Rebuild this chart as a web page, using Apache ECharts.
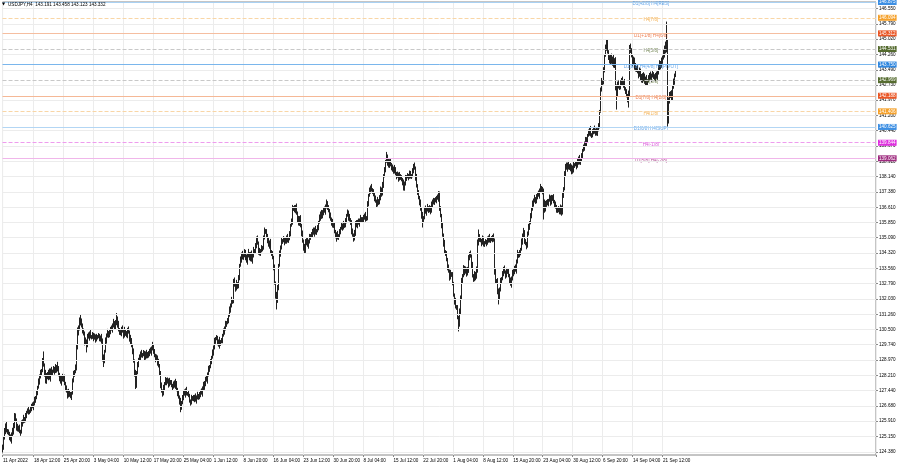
<!DOCTYPE html>
<html><head><meta charset="utf-8">
<script src="https://cdn.jsdelivr.net/npm/echarts@6/dist/echarts.min.js"></script>
<style>html,body{margin:0;padding:0;background:#fff}#c{width:900px;height:468px}</style>
</head><body><div id="c"></div>
<script>
const titleText = 'USDJPY,H4  143.191 143.458 143.123 143.332';
const yTickLabels = ['124.380','125.150','125.910','126.680','127.440','128.210','128.970','129.740','130.500','131.260','132.030','132.790','133.560','134.320','135.090','135.850','136.610','137.380','138.140','138.910','139.670','140.440','141.200','141.970','142.730','143.490','144.260','145.020','145.790','146.550'];
const xTickIdx = [0,33,65,97,129,161,193,225,257,289,321,353,385,417,449,481,513,545,577,609,641,673,705];
const xTickLabels = ['11 Apr 2022','18 Apr 12:00','25 Apr 20:00','3 May 04:00','10 May 12:00','17 May 20:00','25 May 04:00','1 Jun 12:00','8 Jun 20:00','16 Jun 04:00','23 Jun 12:00','30 Jun 20:00','8 Jul 04:00','15 Jul 12:00','22 Jul 20:00','1 Aug 04:00','8 Aug 12:00','15 Aug 20:00','23 Aug 04:00','30 Aug 12:00','6 Sep 20:00','14 Sep 04:00','21 Sep 12:00'];
const levelValues = [146.875,146.094,145.312,144.531,143.750,142.969,142.188,141.406,140.625,139.844,139.062];
const levelNames = ['D1[+2/8] H4[RES]','H4[7/8]','D1[+1/8] H4[6/8]','H4[5/8]','D1[8/8] H4[4/8] H4[PIVOT]','H4[3/8]','D1[7/8] H4[2/8]','H4[1/8]','D1[6/8] H4[SUP]','H4[-1/8]','D1[5/8] H4[-2/8]'];
const levelBoxLabels = ['146.875','146.094','145.312','144.531','143.750','142.969','142.188','141.406','140.625','139.844','139.062'];
const bidValue = 143.332;
const bidLabel = '143.332';

const opens = [
124.40,124.62,125.05,125.42,125.70,125.45,
125.38,125.30,125.10,124.95,125.25,125.40,
125.36,125.70,126.15,125.95,125.60,125.50,
125.62,125.40,125.35,125.80,125.90,126.05,
125.95,126.20,126.35,126.40,126.45,126.38,
126.42,126.55,126.70,126.62,126.80,126.95,
127.10,127.35,127.60,127.90,128.15,128.30,
128.45,128.95,129.20,128.70,128.30,127.90,
128.25,128.10,128.40,128.05,128.45,128.30,
128.42,128.55,128.38,128.62,128.50,128.70,
128.55,128.25,128.05,127.85,128.10,128.00,
128.12,127.80,127.55,127.40,127.20,127.35,
127.25,127.15,127.30,127.70,127.95,128.25,
128.40,128.55,129.60,130.40,130.55,130.80,
130.90,130.70,130.45,130.30,129.85,129.90,
129.70,130.05,130.20,130.10,130.30,130.15,
130.12,130.25,130.05,130.15,130.00,130.10,
130.15,130.20,130.05,129.95,130.10,129.95,
129.10,128.95,129.40,129.95,130.20,130.35,
130.20,130.40,130.55,130.50,130.70,130.85,
130.60,130.85,131.10,131.05,130.75,130.50,
130.35,130.30,130.55,130.40,130.20,130.45,
130.30,130.20,130.50,130.35,130.05,129.85,
129.95,129.70,129.40,128.90,128.30,127.70,
128.35,128.75,129.00,129.10,129.30,129.20,
129.25,129.35,129.10,129.25,129.15,129.30,
129.18,129.30,129.45,129.35,129.55,129.70,
129.40,129.20,129.00,129.10,128.85,128.70,
128.30,128.10,127.70,127.40,127.30,127.55,
127.80,128.00,127.85,127.95,127.75,127.90,
127.85,127.70,127.60,127.75,127.85,127.65,
127.80,127.50,127.30,127.10,126.90,126.60,
126.85,127.10,127.35,127.25,127.45,127.30,
127.30,127.20,127.05,126.90,126.85,127.05,
127.10,127.00,127.15,126.95,127.10,127.20,
127.10,127.25,127.40,127.30,127.55,127.70,
127.60,127.80,128.05,127.95,128.25,128.50,
128.65,128.90,129.10,129.35,129.60,129.90,
130.05,130.10,129.85,129.70,129.95,129.80,
129.90,129.95,130.20,130.40,130.55,130.75,
130.85,130.95,131.20,131.50,131.70,131.95,
131.90,132.40,132.95,132.70,132.55,132.80,
132.65,133.10,133.70,134.00,134.25,134.10,
134.20,134.40,134.10,133.90,134.20,134.35,
134.25,134.05,134.30,133.95,134.20,134.45,
134.40,134.70,135.05,134.80,134.40,134.30,
134.45,134.60,134.55,134.80,135.10,135.45,
135.40,135.20,134.95,134.70,134.85,134.40,
134.30,134.10,133.60,132.80,132.20,131.95,
132.20,132.60,133.70,134.30,134.60,134.90,
134.95,135.05,134.85,134.95,135.10,134.95,
135.05,135.30,135.70,135.90,136.20,136.55,
136.60,136.45,136.65,136.30,136.00,135.80,
136.10,135.70,135.30,134.90,134.60,134.45,
134.95,134.80,134.95,134.70,134.90,135.10,
135.20,135.25,135.45,135.30,135.50,135.35,
135.45,135.60,135.85,136.10,136.30,136.20,
136.15,136.35,136.50,136.40,136.65,136.85,
136.60,136.45,136.20,136.00,135.85,135.70,
135.75,135.40,135.20,135.05,135.25,135.10,
135.20,135.40,135.55,135.70,135.60,135.75,
135.70,135.95,136.20,136.35,136.10,136.00,
135.85,135.60,135.40,135.20,135.05,135.30,
135.85,135.70,135.90,135.80,135.95,136.05,
135.95,136.00,136.15,136.05,136.20,136.10,
136.05,136.80,137.20,137.45,137.60,137.50,
137.40,137.25,137.05,136.90,136.75,136.95,
136.85,137.10,137.35,137.50,137.30,137.70,
138.20,138.50,138.90,139.15,138.85,138.70,
138.95,138.75,138.60,138.45,138.55,138.40,
138.50,138.30,138.15,138.25,138.05,138.20,
138.10,138.00,137.85,137.60,137.80,138.05,
138.15,138.20,138.10,138.30,138.25,138.15,
138.20,138.45,138.70,138.55,138.10,137.70,
137.35,137.10,136.85,136.50,136.20,135.95,
136.10,136.40,136.55,136.35,136.50,136.60,
136.45,136.60,136.40,136.75,136.90,136.85,
137.00,136.95,137.10,137.05,137.30,136.90,
136.55,136.20,135.70,135.20,134.80,134.40,
134.30,134.00,133.60,133.40,133.10,133.30,
133.25,132.80,132.50,132.20,131.90,131.65,
131.60,131.10,130.70,131.40,132.10,132.90,
133.20,133.60,133.35,133.50,133.30,133.45,
133.80,134.10,134.30,134.15,133.70,133.20,
133.00,133.30,133.10,133.50,134.80,135.20,
135.00,134.95,134.80,135.05,134.90,134.75,
134.85,134.90,134.80,135.00,135.10,134.95,
135.05,135.00,135.15,134.95,133.40,132.90,
132.95,132.70,132.40,132.15,132.50,132.90,
133.05,133.30,133.55,133.35,133.20,133.40,
133.45,133.20,132.95,132.75,133.05,133.30,
133.25,133.40,133.60,133.45,133.90,134.30,
134.20,134.35,134.50,134.90,135.20,135.40,
134.90,134.80,134.65,134.90,135.30,135.60,
135.85,136.20,136.50,136.80,136.95,137.05,
136.90,137.15,137.30,137.20,137.45,137.60,
137.50,137.55,137.40,136.90,136.50,136.75,
136.90,136.80,136.95,137.10,136.85,137.05,
137.15,136.90,136.75,136.60,136.50,136.55,
136.45,136.55,136.40,136.60,136.35,137.20,
137.55,138.30,138.70,138.55,138.75,138.60,
138.70,138.50,138.40,138.60,138.45,138.70,
138.75,138.80,138.65,138.90,139.05,138.85,
139.00,139.20,139.45,139.60,139.80,139.95,
139.75,140.00,140.20,140.35,140.50,140.25,
140.20,140.40,140.55,140.35,140.45,140.30,
140.50,140.70,141.40,142.00,142.50,142.90,
142.85,143.50,144.20,144.60,144.80,144.40,
144.10,143.90,144.15,143.85,144.05,143.70,
144.00,143.20,142.60,142.30,142.80,142.65,
142.60,142.85,143.00,142.75,142.85,142.55,
142.40,142.20,142.00,142.30,144.20,144.55,
144.45,144.20,143.80,144.00,143.65,143.50,
143.60,143.40,143.20,143.45,143.10,142.95,
143.25,143.00,143.15,142.85,143.05,142.80,
142.95,143.10,143.25,143.05,143.20,143.30,
143.15,143.05,143.25,143.10,143.35,143.60,
143.70,143.85,143.65,143.95,144.10,144.30,
144.40,144.50,144.65,140.95,141.90,142.20,
142.35,142.10,142.60,142.90,143.05,143.191
];
const closes = [
124.62,125.05,125.42,125.70,125.45,125.38,
125.30,125.10,124.95,125.25,125.40,125.36,
125.70,126.15,125.95,125.60,125.50,125.62,
125.40,125.35,125.80,125.90,126.05,125.95,
126.20,126.35,126.40,126.45,126.38,126.42,
126.55,126.70,126.62,126.80,126.95,127.10,
127.35,127.60,127.90,128.15,128.30,128.45,
128.95,129.20,128.70,128.30,127.90,128.25,
128.10,128.40,128.05,128.45,128.30,128.42,
128.55,128.38,128.62,128.50,128.70,128.55,
128.25,128.05,127.85,128.10,128.00,128.12,
127.80,127.55,127.40,127.20,127.35,127.25,
127.15,127.30,127.70,127.95,128.25,128.40,
128.55,129.60,130.40,130.55,130.80,130.90,
130.70,130.45,130.30,129.85,129.90,129.70,
130.05,130.20,130.10,130.30,130.15,130.12,
130.25,130.05,130.15,130.00,130.10,130.15,
130.20,130.05,129.95,130.10,129.95,129.10,
128.95,129.40,129.95,130.20,130.35,130.20,
130.40,130.55,130.50,130.70,130.85,130.60,
130.85,131.10,131.05,130.75,130.50,130.35,
130.30,130.55,130.40,130.20,130.45,130.30,
130.20,130.50,130.35,130.05,129.85,129.95,
129.70,129.40,128.90,128.30,127.70,128.35,
128.75,129.00,129.10,129.30,129.20,129.25,
129.35,129.10,129.25,129.15,129.30,129.18,
129.30,129.45,129.35,129.55,129.70,129.40,
129.20,129.00,129.10,128.85,128.70,128.30,
128.10,127.70,127.40,127.30,127.55,127.80,
128.00,127.85,127.95,127.75,127.90,127.85,
127.70,127.60,127.75,127.85,127.65,127.80,
127.50,127.30,127.10,126.90,126.60,126.85,
127.10,127.35,127.25,127.45,127.30,127.30,
127.20,127.05,126.90,126.85,127.05,127.10,
127.00,127.15,126.95,127.10,127.20,127.10,
127.25,127.40,127.30,127.55,127.70,127.60,
127.80,128.05,127.95,128.25,128.50,128.65,
128.90,129.10,129.35,129.60,129.90,130.05,
130.10,129.85,129.70,129.95,129.80,129.90,
129.95,130.20,130.40,130.55,130.75,130.85,
130.95,131.20,131.50,131.70,131.95,131.90,
132.40,132.95,132.70,132.55,132.80,132.65,
133.10,133.70,134.00,134.25,134.10,134.20,
134.40,134.10,133.90,134.20,134.35,134.25,
134.05,134.30,133.95,134.20,134.45,134.40,
134.70,135.05,134.80,134.40,134.30,134.45,
134.60,134.55,134.80,135.10,135.45,135.40,
135.20,134.95,134.70,134.85,134.40,134.30,
134.10,133.60,132.80,132.20,131.95,132.20,
132.60,133.70,134.30,134.60,134.90,134.95,
135.05,134.85,134.95,135.10,134.95,135.05,
135.30,135.70,135.90,136.20,136.55,136.60,
136.45,136.65,136.30,136.00,135.80,136.10,
135.70,135.30,134.90,134.60,134.45,134.95,
134.80,134.95,134.70,134.90,135.10,135.20,
135.25,135.45,135.30,135.50,135.35,135.45,
135.60,135.85,136.10,136.30,136.20,136.15,
136.35,136.50,136.40,136.65,136.85,136.60,
136.45,136.20,136.00,135.85,135.70,135.75,
135.40,135.20,135.05,135.25,135.10,135.20,
135.40,135.55,135.70,135.60,135.75,135.70,
135.95,136.20,136.35,136.10,136.00,135.85,
135.60,135.40,135.20,135.05,135.30,135.85,
135.70,135.90,135.80,135.95,136.05,135.95,
136.00,136.15,136.05,136.20,136.10,136.05,
136.80,137.20,137.45,137.60,137.50,137.40,
137.25,137.05,136.90,136.75,136.95,136.85,
137.10,137.35,137.50,137.30,137.70,138.20,
138.50,138.90,139.15,138.85,138.70,138.95,
138.75,138.60,138.45,138.55,138.40,138.50,
138.30,138.15,138.25,138.05,138.20,138.10,
138.00,137.85,137.60,137.80,138.05,138.15,
138.20,138.10,138.30,138.25,138.15,138.20,
138.45,138.70,138.55,138.10,137.70,137.35,
137.10,136.85,136.50,136.20,135.95,136.10,
136.40,136.55,136.35,136.50,136.60,136.45,
136.60,136.40,136.75,136.90,136.85,137.00,
136.95,137.10,137.05,137.30,136.90,136.55,
136.20,135.70,135.20,134.80,134.40,134.30,
134.00,133.60,133.40,133.10,133.30,133.25,
132.80,132.50,132.20,131.90,131.65,131.60,
131.10,130.70,131.40,132.10,132.90,133.20,
133.60,133.35,133.50,133.30,133.45,133.80,
134.10,134.30,134.15,133.70,133.20,133.00,
133.30,133.10,133.50,134.80,135.20,135.00,
134.95,134.80,135.05,134.90,134.75,134.85,
134.90,134.80,135.00,135.10,134.95,135.05,
135.00,135.15,134.95,133.40,132.90,132.95,
132.70,132.40,132.15,132.50,132.90,133.05,
133.30,133.55,133.35,133.20,133.40,133.45,
133.20,132.95,132.75,133.05,133.30,133.25,
133.40,133.60,133.45,133.90,134.30,134.20,
134.35,134.50,134.90,135.20,135.40,134.90,
134.80,134.65,134.90,135.30,135.60,135.85,
136.20,136.50,136.80,136.95,137.05,136.90,
137.15,137.30,137.20,137.45,137.60,137.50,
137.55,137.40,136.90,136.50,136.75,136.90,
136.80,136.95,137.10,136.85,137.05,137.15,
136.90,136.75,136.60,136.50,136.55,136.45,
136.55,136.40,136.60,136.35,137.20,137.55,
138.30,138.70,138.55,138.75,138.60,138.70,
138.50,138.40,138.60,138.45,138.70,138.75,
138.80,138.65,138.90,139.05,138.85,139.00,
139.20,139.45,139.60,139.80,139.95,139.75,
140.00,140.20,140.35,140.50,140.25,140.20,
140.40,140.55,140.35,140.45,140.30,140.50,
140.70,141.40,142.00,142.50,142.90,142.85,
143.50,144.20,144.60,144.80,144.40,144.10,
143.90,144.15,143.85,144.05,143.70,144.00,
143.20,142.60,142.30,142.80,142.65,142.60,
142.85,143.00,142.75,142.85,142.55,142.40,
142.20,142.00,142.30,144.20,144.55,144.45,
144.20,143.80,144.00,143.65,143.50,143.60,
143.40,143.20,143.45,143.10,142.95,143.25,
143.00,143.15,142.85,143.05,142.80,142.95,
143.10,143.25,143.05,143.20,143.30,143.15,
143.05,143.25,143.10,143.35,143.60,143.70,
143.85,143.65,143.95,144.10,144.30,144.40,
144.50,144.65,140.95,141.90,142.20,142.35,
142.10,142.60,142.90,143.05,143.191,143.332
];
const highs = [
124.74,125.13,125.57,125.80,125.88,125.52,
125.50,125.38,125.25,125.35,125.58,125.47,
125.82,126.32,126.30,126.05,125.78,125.69,
125.74,125.48,125.95,126.00,126.23,126.12,
126.32,126.43,126.55,126.55,126.63,126.49,
126.67,126.78,126.85,126.90,127.13,127.17,
127.47,127.68,128.05,128.25,128.48,128.52,
129.07,129.40,129.35,128.80,128.48,128.32,
128.37,128.48,128.55,128.55,128.63,128.49,
128.67,128.63,128.77,128.72,128.88,128.77,
128.67,128.33,128.20,128.20,128.28,128.19,
128.24,127.88,127.70,127.50,127.53,127.42,
127.37,127.38,127.85,128.05,128.43,128.47,
128.75,129.75,130.60,130.70,131.10,131.25,
131.05,130.80,130.55,130.40,130.10,130.00,
130.17,130.28,130.35,130.40,130.48,130.22,
130.37,130.33,130.30,130.25,130.28,130.22,
130.32,130.28,130.20,130.20,130.28,130.05,
129.25,129.48,130.10,130.30,130.53,130.42,
130.52,130.63,130.70,130.80,131.03,130.92,
130.97,131.18,131.32,131.15,130.93,130.57,
130.47,130.63,130.70,130.50,130.63,130.52,
130.42,130.58,130.65,130.45,130.23,130.02,
130.07,129.78,129.55,129.00,128.48,128.42,
128.87,129.08,129.25,129.40,129.48,129.32,
129.47,129.43,129.40,129.35,129.48,129.37,
129.42,129.53,129.60,129.65,129.88,129.77,
129.52,129.28,129.25,129.20,129.03,128.77,
128.42,128.18,127.85,127.50,127.73,127.87,
128.12,128.08,128.10,128.05,128.08,127.97,
127.97,127.78,127.90,127.95,128.03,127.87,
127.92,127.58,127.45,127.20,127.08,126.92,
127.22,127.43,127.50,127.55,127.63,127.37,
127.42,127.28,127.20,127.00,127.23,127.17,
127.22,127.23,127.30,127.20,127.38,127.27,
127.37,127.48,127.55,127.65,127.88,127.77,
127.92,128.13,128.20,128.35,128.68,128.72,
129.02,129.18,129.50,129.70,130.08,130.12,
130.22,130.18,130.00,130.05,130.13,129.97,
130.07,130.28,130.55,130.65,130.93,130.92,
131.07,131.28,131.65,131.80,132.13,132.02,
132.52,133.03,133.10,132.80,132.98,132.87,
133.22,133.78,134.15,134.35,134.43,134.27,
134.52,134.48,134.25,134.30,134.53,134.42,
134.37,134.38,134.45,134.30,134.63,134.52,
134.82,135.15,135.20,134.90,134.58,134.52,
134.72,134.68,134.95,135.20,135.60,135.52,
135.52,135.28,135.10,134.95,135.03,134.47,
134.42,134.18,133.75,132.90,132.38,132.27,
132.72,133.78,134.45,134.70,135.08,135.02,
135.17,135.13,135.10,135.20,135.28,135.12,
135.42,135.78,136.05,136.30,136.73,136.67,
136.72,136.73,136.80,136.40,136.18,136.17,
136.22,135.78,135.45,135.00,134.78,135.02,
135.07,135.03,135.10,135.00,135.28,135.27,
135.37,135.53,135.60,135.60,135.68,135.52,
135.72,135.93,136.25,136.40,136.48,136.27,
136.47,136.58,136.65,136.75,137.00,136.92,
136.72,136.53,136.35,136.10,136.03,135.82,
135.87,135.48,135.35,135.35,135.43,135.27,
135.52,135.63,135.85,135.80,135.93,135.82,
136.07,136.28,136.50,136.45,136.28,136.07,
135.97,135.68,135.55,135.30,135.48,135.92,
135.97,135.98,136.05,136.05,136.23,136.12,
136.12,136.23,136.30,136.30,136.38,136.17,
136.92,137.28,137.60,137.70,137.78,137.57,
137.52,137.33,137.20,137.00,137.13,137.02,
137.22,137.43,137.65,137.60,137.88,138.27,
138.62,138.98,139.38,139.25,139.03,139.02,
139.07,138.83,138.75,138.65,138.73,138.57,
138.62,138.38,138.40,138.35,138.38,138.27,
138.22,138.08,138.00,137.90,138.23,138.22,
138.32,138.28,138.45,138.40,138.43,138.27,
138.57,138.78,138.85,138.65,138.28,137.77,
137.47,137.18,137.00,136.60,136.38,136.17,
136.52,136.63,136.70,136.60,136.78,136.67,
136.72,136.68,136.90,137.00,137.08,137.07,
137.12,137.18,137.25,137.42,137.40,136.97,
136.67,136.28,135.85,135.30,134.98,134.47,
134.42,134.08,133.75,133.50,133.48,133.37,
133.37,132.88,132.65,132.30,132.08,131.72,
131.72,131.18,131.55,132.20,133.08,133.27,
133.72,133.68,133.65,133.60,133.63,133.87,
134.22,134.38,134.45,134.25,133.88,133.27,
133.42,133.38,133.65,135.00,135.50,135.27,
135.12,135.03,135.20,135.15,135.08,134.92,
135.02,134.98,135.15,135.20,135.28,135.12,
135.17,135.23,135.30,135.05,133.58,133.02,
133.07,132.78,132.55,132.60,133.08,133.12,
133.42,133.63,133.70,133.45,133.58,133.52,
133.57,133.28,133.10,133.15,133.48,133.37,
133.52,133.68,133.75,134.00,134.48,134.37,
134.47,134.58,135.05,135.30,135.58,135.47,
135.02,134.88,135.05,135.40,135.78,135.92,
136.32,136.58,136.95,137.05,137.23,137.12,
137.27,137.38,137.45,137.55,137.78,137.67,
137.67,137.63,137.55,137.00,136.93,136.97,
137.02,137.03,137.25,137.20,137.23,137.22,
137.27,136.98,136.90,136.70,136.73,136.62,
136.67,136.63,136.75,136.70,137.38,137.62,
138.42,138.78,138.85,138.85,138.93,138.77,
138.82,138.58,138.75,138.70,138.88,138.82,
138.92,138.88,139.05,139.15,139.23,139.07,
139.32,139.53,139.75,139.90,140.13,140.02,
140.12,140.28,140.50,140.60,140.68,140.32,
140.52,140.63,140.70,140.55,140.63,140.57,
140.82,141.48,142.15,142.60,143.08,142.97,
143.62,144.28,144.75,144.99,144.98,144.47,
144.22,144.23,144.30,144.15,144.23,144.07,
144.12,143.28,142.75,142.90,142.98,142.72,
142.97,143.08,143.15,142.95,143.03,142.62,
142.52,142.28,142.45,144.30,144.73,144.80,
144.57,144.28,144.15,144.10,143.83,143.67,
143.72,143.48,143.60,143.55,143.28,143.32,
143.37,143.23,143.30,143.15,143.23,143.02,
143.22,143.33,143.40,143.30,143.48,143.37,
143.27,143.33,143.40,143.45,143.78,143.77,
143.97,143.93,144.10,144.20,144.48,144.70,
144.90,145.90,145.00,142.10,142.38,142.42,
142.47,142.68,143.05,143.15,143.30,143.458
];
const lows = [
124.31,124.48,124.99,125.26,125.35,125.26,
125.21,124.96,124.89,124.79,125.15,125.24,
125.27,125.56,125.89,125.44,125.40,125.38,
125.31,125.18,125.29,125.64,125.80,125.83,
125.86,126.06,126.29,126.24,126.28,126.26,
126.33,126.41,126.56,126.46,126.70,126.83,
127.01,127.21,127.54,127.74,128.05,128.18,
128.36,128.81,128.64,128.14,127.80,127.78,
128.01,127.96,127.99,127.89,128.20,128.18,
128.33,128.24,128.32,128.34,128.40,128.43,
128.16,127.91,127.79,127.69,127.90,127.88,
127.71,127.41,127.34,127.04,127.10,127.13,
127.06,126.97,127.24,127.54,127.85,128.13,
128.31,128.45,129.50,130.20,130.45,130.70,
130.60,130.30,130.20,129.70,129.75,129.35,
129.61,129.91,130.04,129.94,130.05,130.00,
130.03,129.91,129.99,129.84,129.90,130.00,
130.06,129.91,129.89,129.79,129.85,128.90,
128.62,128.81,129.34,129.79,130.10,130.08,
130.11,130.26,130.44,130.34,130.60,130.48,
130.51,130.71,130.99,130.59,130.40,130.23,
130.21,130.16,130.34,130.04,130.10,130.18,
130.11,130.06,130.29,129.89,129.75,129.73,
129.61,129.26,128.84,128.14,127.52,127.58,
128.26,128.61,128.94,128.94,129.10,129.08,
129.16,128.96,129.04,128.99,129.05,129.06,
129.09,129.16,129.29,129.19,129.45,129.28,
129.11,128.86,128.94,128.69,128.60,128.18,
128.01,127.56,127.34,127.14,127.20,127.43,
127.71,127.71,127.79,127.59,127.65,127.73,
127.61,127.46,127.54,127.59,127.55,127.53,
127.41,127.16,127.04,126.74,126.36,126.48,
126.76,126.96,127.19,127.09,127.20,127.18,
127.11,126.91,126.84,126.69,126.75,126.93,
126.91,126.86,126.89,126.79,127.00,126.98,
127.01,127.11,127.24,127.14,127.45,127.48,
127.51,127.66,127.89,127.79,128.15,128.38,
128.56,128.76,129.04,129.19,129.50,129.78,
129.96,129.71,129.64,129.54,129.70,129.68,
129.81,129.81,130.14,130.24,130.45,130.63,
130.76,130.81,131.14,131.34,131.60,131.78,
131.81,132.26,132.64,132.39,132.45,132.53,
132.56,132.96,133.64,133.84,134.00,133.98,
134.11,133.96,133.84,133.74,134.10,134.13,
133.96,133.91,133.89,133.79,134.10,134.28,
134.31,134.56,134.74,134.24,134.20,134.18,
134.36,134.41,134.49,134.64,135.00,135.28,
135.11,134.81,134.64,134.54,134.30,134.18,
134.01,133.46,132.74,132.04,131.50,131.83,
132.11,132.46,133.64,134.14,134.50,134.78,
134.86,134.71,134.79,134.79,134.85,134.83,
134.96,135.16,135.64,135.74,136.10,136.43,
136.36,136.31,136.24,135.84,135.70,135.68,
135.61,135.16,134.84,134.44,134.28,134.33,
134.71,134.66,134.64,134.54,134.80,134.98,
135.11,135.11,135.24,135.14,135.25,135.23,
135.36,135.46,135.79,135.94,136.10,136.03,
136.06,136.21,136.34,136.24,136.55,136.48,
136.36,136.06,135.94,135.69,135.60,135.58,
135.31,135.06,134.99,134.89,135.00,134.98,
135.11,135.26,135.49,135.44,135.50,135.58,
135.61,135.81,136.14,135.94,135.90,135.73,
135.51,135.26,135.14,134.89,134.95,135.18,
135.61,135.56,135.74,135.64,135.85,135.83,
135.86,135.86,135.99,135.89,136.00,135.93,
135.96,136.66,137.14,137.29,137.40,137.28,
137.16,136.91,136.84,136.59,136.65,136.73,
136.76,136.96,137.29,137.14,137.20,137.58,
138.11,138.36,138.84,138.69,138.60,138.58,
138.66,138.46,138.39,138.29,138.30,138.28,
138.21,138.01,138.09,137.89,137.95,137.98,
137.91,137.71,137.45,137.44,137.70,137.93,
138.06,137.96,138.04,138.14,138.05,138.03,
138.11,138.31,138.49,137.94,137.60,137.23,
137.01,136.71,136.44,136.04,135.60,135.83,
136.01,136.26,136.29,136.19,136.40,136.33,
136.36,136.26,136.34,136.59,136.75,136.73,
136.86,136.81,136.99,136.89,136.80,136.43,
136.11,135.56,135.14,134.64,134.30,134.18,
133.91,133.46,133.34,132.94,133.00,133.13,
132.71,132.36,132.14,131.74,131.55,131.48,
131.01,130.40,130.64,131.24,132.00,132.78,
133.11,133.21,133.29,133.14,133.20,133.33,
133.71,133.96,134.09,133.54,133.10,132.88,
132.91,132.96,133.04,133.34,134.70,134.88,
134.86,134.66,134.74,134.74,134.65,134.63,
134.76,134.66,134.74,134.84,134.85,134.83,
134.91,134.86,134.89,133.24,132.80,132.78,
132.61,132.26,131.75,131.99,132.40,132.78,
132.96,133.16,133.29,133.04,133.10,133.28,
133.11,132.81,132.69,132.59,132.95,133.13,
133.16,133.26,133.39,133.29,133.80,134.08,
134.11,134.21,134.44,134.74,135.10,134.78,
134.71,134.51,134.59,134.74,135.20,135.48,
135.76,136.06,136.44,136.64,136.85,136.78,
136.81,137.01,137.14,137.04,137.35,137.38,
137.41,137.26,136.00,136.34,136.40,136.63,
136.71,136.66,136.89,136.69,136.75,136.93,
136.81,136.61,136.54,136.34,136.40,136.33,
136.36,136.26,136.25,136.19,136.25,137.08,
137.46,138.16,138.49,138.39,138.50,138.48,
138.41,138.26,138.34,138.29,138.35,138.58,
138.66,138.51,138.59,138.74,138.75,138.73,
138.91,139.06,139.39,139.44,139.70,139.63,
139.66,139.86,140.14,140.19,140.15,140.08,
140.11,140.26,140.29,140.19,140.20,140.18,
140.41,140.56,141.34,141.84,142.40,142.73,
142.76,143.36,144.14,144.44,144.30,143.98,
143.81,143.76,143.79,143.69,143.60,143.58,
143.11,142.46,141.50,142.14,142.55,142.48,
142.51,142.71,142.69,142.59,142.45,142.28,
142.11,141.86,141.60,142.14,144.10,144.33,
144.11,143.66,143.74,143.49,143.40,143.38,
143.31,143.06,143.14,142.94,142.85,142.83,
142.91,142.86,142.79,142.69,142.70,142.68,
142.86,142.96,142.99,142.89,143.10,143.03,
142.96,142.91,143.04,142.94,143.25,143.48,
143.61,143.51,143.59,143.79,144.00,144.10,
144.31,144.36,140.65,140.80,141.80,142.08,
141.96,141.96,142.54,142.74,142.95,143.123
];

const N_SLOTS = 933;
const slots = Array.from({length: N_SLOTS}, (_, i) => String(i));
const candleData = opens.map((o, i) => [o, closes[i], lows[i], highs[i]]);
const yTickValues = yTickLabels.map(Number);
const FONT = 'Liberation Sans, Arial, sans-serif';
const FS = 4.6;
const LABEL_SLOT = 692;

const lineColors = ['#a9d1f3','#f9d6a6','#f5bea0','#c8c8c8','#7ab6ec','#c8c8c8','#f5b896','#f9d6a6','#b3d6f4','#ee9cee','#f0b6ea'];
const lineTypes  = ['solid','dashed','solid','dashed','solid','dashed','solid','dashed','solid','dashed','solid'];
const boxColors  = ['#3d8fe3','#f5a12b','#ea5524','#556b2f','#2f87df','#556b2f','#ea5524','#f5a12b','#3d8fe3','#df2fdf','#9e2a7e'];
const textColors = ['#3d8fe3','#f0a030','#e8602a','#556b2f','#3d8fe3','#556b2f','#e8602a','#f0a030','#3d8fe3','#d030d0','#a02c80'];

const chart = echarts.init(document.getElementById('c'), null, {renderer: 'canvas'});
chart.setOption({
  animation: false,
  backgroundColor: '#ffffff',
  textStyle: {fontFamily: FONT},
  grid: {left: 0, right: 24, top: 2, bottom: 13, show: true, borderColor: '#8a8a8a', borderWidth: 1, backgroundColor: 'transparent'},
  graphic: [
    {type: 'text', left: 2, top: 2, z: 100, style: {text: '\u25BC', fontSize: 4, fill: '#000', fontFamily: 'DejaVu Sans'}},
    {type: 'text', left: 8, top: 2, z: 100, style: {text: titleText, fontSize: FS, fill: '#000', fontFamily: FONT}}
  ],
  xAxis: {
    type: 'category', data: slots, boundaryGap: true,
    axisLine: {show: false},
    axisTick: {show: true, length: 2, interval: (i) => xTickIdx.includes(i), lineStyle: {color: '#8a8a8a'}},
    axisLabel: {
      show: true, interval: (i) => xTickIdx.includes(i), align: 'left', margin: 3,
      fontSize: FS, color: '#000', fontFamily: FONT,
      formatter: (v, i) => { const k = xTickIdx.indexOf(i); return k >= 0 ? xTickLabels[k] : ''; }
    },
    splitLine: {show: true, interval: (i) => xTickIdx.includes(i), lineStyle: {color: '#ececec', width: 1}}
  },
  yAxis: {
    type: 'value', position: 'right', min: 124.22, max: 146.88, scale: true,
    axisLine: {show: false},
    axisTick: {show: true, length: 2, customValues: yTickValues, lineStyle: {color: '#8a8a8a'}},
    axisLabel: {
      show: true, customValues: yTickValues, margin: 3, fontSize: FS, color: '#000', fontFamily: FONT,
      formatter: (v) => { const k = yTickValues.findIndex(t => Math.abs(t - v) < 1e-6); return k >= 0 ? yTickLabels[k] : ''; }
    },
    splitLine: {show: false}
  },
  series: [
    {
      type: 'line', data: [], silent: true, z: 1, clip: false,
      markLine: {
        silent: true, symbol: ['none', 'none'], animation: false,
        label: {show: false},
        lineStyle: {color: '#ececec', width: 1, type: 'solid'},
        data: yTickValues.map(v => ({yAxis: v}))
      }
    },
    {
      type: 'line', data: [], silent: true, z: 2, clip: false,
      markLine: {
        silent: true, symbol: ['none', 'none'], animation: false,
        data: levelValues.map((v, i) => ({
          yAxis: v,
          lineStyle: {color: lineColors[i], width: 1, type: lineTypes[i]},
          label: {show: true, position: 'end', distance: 2, formatter: levelBoxLabels[i],
                  backgroundColor: boxColors[i], color: '#fff', padding: [1, 1, 0, 1],
                  fontSize: FS, fontFamily: FONT}
        })).concat([{
          yAxis: bidValue,
          lineStyle: {opacity: 0},
          label: {show: true, position: 'end', distance: 2, formatter: bidLabel,
                  backgroundColor: '#000', color: '#fff', padding: [1, 1, 0, 1], fontSize: FS, fontFamily: FONT}
        }])
      }
    },
    {
      type: 'candlestick', data: candleData, z: 3, barWidth: 1, large: false, progressive: 0,
      itemStyle: {color: '#333333', color0: '#222222', borderColor: '#222222', borderColor0: '#222222', borderWidth: 1}
    },
    {
      type: 'scatter', z: 4, silent: true, symbolSize: 0,
      data: levelValues.map((v, i) => ({value: [LABEL_SLOT, v],
        label: {show: true, position: 'inside', offset: [0, 2], formatter: levelNames[i], color: textColors[i],
                fontSize: FS, fontFamily: FONT}}))
    }
  ]
});
</script></body></html>
